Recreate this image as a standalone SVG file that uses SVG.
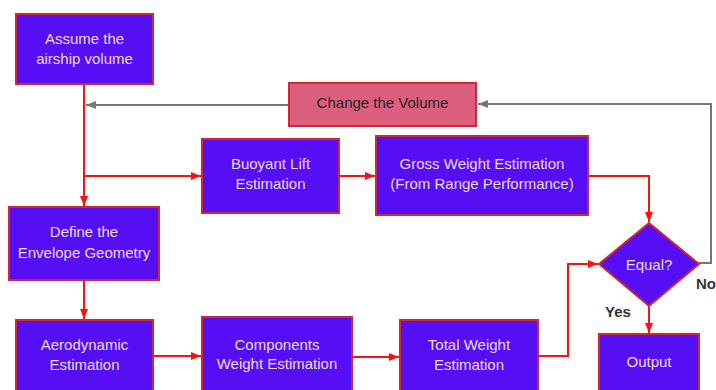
<svg xmlns="http://www.w3.org/2000/svg" width="716" height="390" viewBox="0 0 716 390">
<style>
.box{fill:#560ef5;stroke:#d0282e;stroke-width:2}
.lbl{font-family:"Liberation Sans",Arial,sans-serif;font-size:15px;fill:#eadcff;text-anchor:middle;dominant-baseline:central}
.dark{fill:#222}
.red{fill:none;stroke:#ff1010;stroke-width:2}
.gray{fill:none;stroke:#777;stroke-width:2}
.yn{font-family:"Liberation Sans",Arial,sans-serif;font-size:15px;font-weight:bold;fill:#333;text-anchor:middle;dominant-baseline:central}
</style>
<defs>
<marker id="ar" viewBox="0 0 10 10" refX="10" refY="5" markerWidth="10" markerHeight="10" markerUnits="userSpaceOnUse" orient="auto">
<path d="M0,1 L10,5 L0,9 z" fill="#ff1010"/>
</marker>
<marker id="ag" viewBox="0 0 10 10" refX="10" refY="5" markerWidth="10" markerHeight="10" markerUnits="userSpaceOnUse" orient="auto">
<path d="M0,1 L10,5 L0,9 z" fill="#777"/>
</marker>
</defs>
<rect width="716" height="390" fill="#fff"/>
<g id="connectors">
<path class="red" d="M84,84 V206" marker-end="url(#ar)"/>
<path class="red" d="M84,176 H201" marker-end="url(#ar)"/>
<path class="red" d="M339,176 H375" marker-end="url(#ar)"/>
<path class="red" d="M588,176 H649 V222" marker-end="url(#ar)"/>
<path class="red" d="M84,280 V319" marker-end="url(#ar)"/>
<path class="red" d="M153,356 H201" marker-end="url(#ar)"/>
<path class="red" d="M352,357 H399" marker-end="url(#ar)"/>
<path class="red" d="M538,356 H568 V264 H598" marker-end="url(#ar)"/>
<path class="red" d="M649,306 V333" marker-end="url(#ar)"/>
<path class="gray" d="M289,105 H86" marker-end="url(#ag)"/>
<path class="gray" d="M699,263 H711 V104 H478" marker-end="url(#ag)"/>
</g>
<g id="assume"><rect class="box" x="16" y="14" width="137" height="70"/><text class="lbl" x="84.5" y="38">Assume the</text><text class="lbl" x="84.5" y="58">airship volume</text></g>
<g id="change"><rect x="289" y="83" width="187" height="43" fill="#dc5f80" stroke="#d0282e" stroke-width="2"/><text class="lbl dark" x="382.5" y="102">Change the Volume</text></g>
<g id="buoyant"><rect class="box" x="202" y="139" width="137" height="74"/><text class="lbl" x="270.5" y="163">Buoyant Lift</text><text class="lbl" x="270.5" y="183">Estimation</text></g>
<g id="gross"><rect class="box" x="376" y="136" width="212" height="79"/><text class="lbl" x="482" y="163">Gross Weight Estimation</text><text class="lbl" x="482" y="183">(From Range Performance)</text></g>
<g id="define"><rect class="box" x="9" y="207" width="150" height="73"/><text class="lbl" x="84" y="231">Define the</text><text class="lbl" x="84" y="252">Envelope Geometry</text></g>
<g id="equal"><polygon class="box" points="649,223 699,264 649,306 599,264"/><text class="lbl" x="649" y="264">Equal?</text></g>
<text class="yn" x="618" y="311">Yes</text>
<text class="yn" x="706" y="283">No</text>
<g id="aero"><rect class="box" x="16" y="320" width="137" height="80"/><text class="lbl" x="84.5" y="344">Aerodynamic</text><text class="lbl" x="84.5" y="364">Estimation</text></g>
<g id="components"><rect class="box" x="202" y="317" width="150" height="83"/><text class="lbl" x="277" y="344">Components</text><text class="lbl" x="277" y="363">Weight Estimation</text></g>
<g id="total"><rect class="box" x="400" y="320" width="138" height="80"/><text class="lbl" x="469" y="344">Total Weight</text><text class="lbl" x="469" y="364">Estimation</text></g>
<g id="output"><rect class="box" x="599" y="334" width="100" height="66"/><text class="lbl" x="649" y="361">Output</text></g>
</svg>
